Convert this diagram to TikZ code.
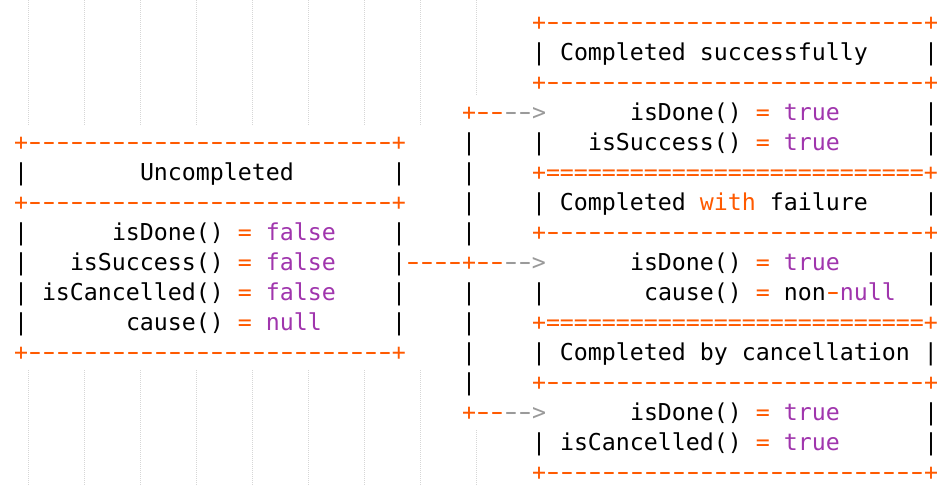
\documentclass[tikz,border=0pt]{standalone}
\usepackage{fontspec}
\usepackage{graphicx}
\setmonofont{DejaVu Sans Mono}
\definecolor{op}{HTML}{FF5A00}
\definecolor{kw}{HTML}{A035AD}
\definecolor{cm}{HTML}{9A9A9A}
\definecolor{guide}{HTML}{D6D6D6}
\newcommand\Op[1]{\textcolor{op}{#1}}
\newcommand\Kw[1]{\textcolor{kw}{#1}}
\newcommand\Cm[1]{\textcolor{cm}{#1}}
\newcommand\dsh{\makebox[14pt][c]{\scalebox{1.6}[1.1]{-}}}
\def\nined{\dsh\dsh\dsh\dsh\dsh\dsh\dsh\dsh\dsh}
\def\tsd{\nined\nined\nined}
\def\tsixd{\nined\nined\dsh\dsh\dsh\dsh\dsh\dsh\dsh\dsh}
\def\ninee{=========}
\def\tse{\ninee\ninee\ninee}
\newcommand\T[3]{\node[txt] (t#1-#2) at ({14+14*#2},{30+30*#1}) {#3};}
\tikzset{
  txt/.style={anchor=base west, inner sep=0pt, outer sep=0pt,
    font=\ttfamily\fontsize{23.25}{30}\selectfont, text=black},
  guideline/.style={draw=guide, line width=1pt, dash pattern=on 1pt off 1pt}
}
\begin{document}
\begin{tikzpicture}[x=1pt,y=-1pt]
\fill[white] (0,0) rectangle (948,496);
\useasboundingbox (0,0) rectangle (948,496);
% indent guides
\foreach \k in {0,...,7}{
  \draw[guideline] ({28.5+56*\k},0) -- ({28.5+56*\k},125);
  \draw[guideline] ({28.5+56*\k},370) -- ({28.5+56*\k},486);
}
\draw[guideline] (476.5,0) -- (476.5,95);
\draw[guideline] (476.5,430) -- (476.5,486);
% row 0-2
\T{0}{37}{\Op{+\tsd+}}
\T{1}{37}{|}
\T{1}{39}{Completed successfully}
\T{1}{65}{|}
\T{2}{37}{\Op{+\tsd+}}
% row 3
\T{3}{32}{\Op{+\dsh\dsh}\Cm{\dsh\dsh>}}
\T{3}{44}{isDone() \Op{=} \Kw{true}}
\T{3}{65}{|}
% row 4
\T{4}{0}{\Op{+\tsixd+}}
\T{4}{32}{|}
\T{4}{37}{|}
\T{4}{41}{isSuccess() \Op{=} \Kw{true}}
\T{4}{65}{|}
% row 5
\T{5}{0}{|}
\T{5}{9}{Uncompleted}
\T{5}{27}{|}
\T{5}{32}{|}
\T{5}{37}{\Op{+\tse+}}
% row 6
\T{6}{0}{\Op{+\tsixd+}}
\T{6}{32}{|}
\T{6}{37}{| Completed \Op{with} failure}
\T{6}{65}{|}
% row 7
\T{7}{0}{|}
\T{7}{7}{isDone() \Op{=} \Kw{false}}
\T{7}{27}{|}
\T{7}{32}{|}
\T{7}{37}{\Op{+\tsd+}}
% row 8
\T{8}{0}{|}
\T{8}{4}{isSuccess() \Op{=} \Kw{false}}
\T{8}{27}{|\Op{\dsh\dsh\dsh\dsh+\dsh\dsh}\Cm{\dsh\dsh>}}
\T{8}{44}{isDone() \Op{=} \Kw{true}}
\T{8}{65}{|}
% row 9
\T{9}{0}{|}
\T{9}{2}{isCancelled() \Op{=} \Kw{false}}
\T{9}{27}{|}
\T{9}{32}{|}
\T{9}{37}{|}
\T{9}{45}{cause() \Op{=} non\Op{\dsh}\Kw{null}}
\T{9}{65}{|}
% row 10
\T{10}{0}{|}
\T{10}{8}{cause() \Op{=} \Kw{null}}
\T{10}{27}{|}
\T{10}{32}{|}
\T{10}{37}{\Op{+\tse+}}
% row 11
\T{11}{0}{\Op{+\tsixd+}}
\T{11}{32}{|}
\T{11}{37}{| Completed by cancellation |}
% row 12
\T{12}{32}{|}
\T{12}{37}{\Op{+\tsd+}}
% row 13
\T{13}{32}{\Op{+\dsh\dsh}\Cm{\dsh\dsh>}}
\T{13}{44}{isDone() \Op{=} \Kw{true}}
\T{13}{65}{|}
% row 14
\T{14}{37}{|}
\T{14}{39}{isCancelled() \Op{=} \Kw{true}}
\T{14}{65}{|}
% row 15
\T{15}{37}{\Op{+\tsd+}}
\end{tikzpicture}
\end{document}
